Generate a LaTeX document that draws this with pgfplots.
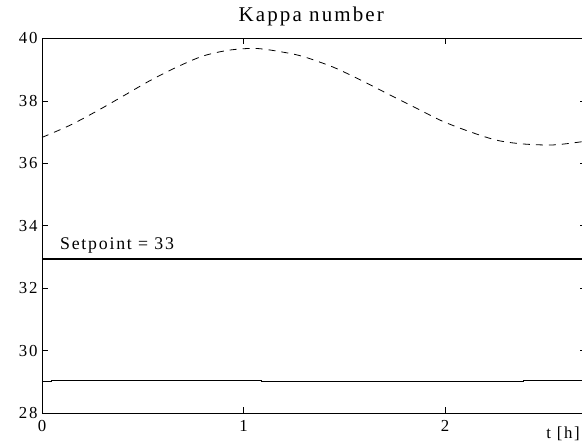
\documentclass[border=0pt]{standalone}
\usepackage{fontspec}
\setmainfont{Liberation Serif}[LetterSpace=10]
\usepackage{pgfplots}
\pgfplotsset{compat=1.18}
\begin{document}
\begin{tikzpicture}
\begin{axis}[
  scale only axis,
  width=544pt, height=374.5pt,
  at={(0,0)}, anchor=south west,
  xmin=0, xmax=2.70, ymin=28, ymax=40,
  xtick={0,1,2}, ytick={28,30,...,40},
  tick align=inside,
  major tick length=6pt,
  tick style={black, line width=0.8pt},
  axis line style={line width=0.9pt},
  /pgf/number format/assume math mode=true,
  tick label style={font=\fontsize{16.8}{19}\selectfont},
  xticklabel style={yshift=-3.5pt},
  yticklabel style={xshift=-1pt},
  title={Kappa number},
  title style={at={(rel axis cs:0.495,1)}, anchor=base, yshift=11pt, inner sep=0pt, font=\fontsize{21}{24}\selectfont},
  xlabel={t [h]},
  xlabel style={at={(axis cs:2.586,28)}, anchor=center, yshift=-20.5pt, inner sep=0pt, font=\fontsize{16.8}{19}\selectfont},
  clip=true,
]
\addplot[black, line width=0.8pt, dash pattern=on 7pt off 6pt, smooth, tension=0.5] coordinates {
(0,36.83) (0.139,37.22) (0.271,37.67) (0.404,38.16) (0.536,38.65) (0.668,39.08)
(0.800,39.44) (0.933,39.63) (1.065,39.68) (1.198,39.56) (1.297,39.42) (1.446,39.08)
(1.587,38.65) (1.727,38.19) (1.860,37.76) (1.984,37.36) (2.116,37.03) (2.257,36.74)
(2.389,36.62) (2.538,36.59) (2.678,36.69) (2.72,36.73)
};
\addplot[black, line width=2pt] coordinates {(0,32.95) (2.72,32.95)};
\addplot[black, line width=0.9pt, const plot] coordinates {
(0,29.0) (0.048,29.04) (1.09,29.0) (2.39,29.04) (2.72,29.04)
};
\node[anchor=base west, inner sep=0pt, font=\fontsize{17.8}{20}\selectfont] at (axis cs:0.089,33.24) {Setpoint = 33};
\end{axis}
\pgfresetboundingbox
\path[use as bounding box] (-42pt,-30pt) rectangle (540pt,413pt);
\end{tikzpicture}
\end{document}
